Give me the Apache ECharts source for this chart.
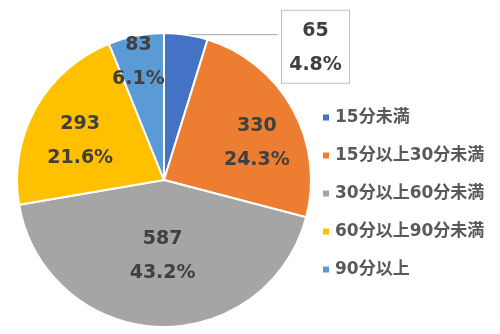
<!DOCTYPE html>
<html>
<head>
<meta charset="utf-8">
<script src="https://cdn.jsdelivr.net/npm/echarts@6/dist/echarts.min.js"></script>
<style>
html, body { margin: 0; padding: 0; background: #fff; }
#chart { width: 500px; height: 334px; }
</style>
</head>
<body>
<div id="chart"></div>
<script>
// 所要時間の区分と人数
var categories = ['15分未満', '15分以上30分未満', '30分以上60分未満', '60分以上90分未満', '90分以上'];
var counts = [65, 330, 587, 293, 83];
var colors = ['#4472C4', '#ED7D31', '#A5A5A5', '#FFC000', '#5B9BD5'];

var fontFamily = '"DejaVu Sans", "Noto Sans CJK JP", sans-serif';

// 内側ラベルの位置調整（Excelの配置に合わせる）
var labelOffsets = [[0, 12], [26, 0], [2, 0], [-17, -2], [-11, -43]];

var pieData = [];
for (var i = 0; i < categories.length; i++) {
	var item = {
		name: categories[i],
		value: counts[i],
		itemStyle: { color: colors[i] },
		label: { offset: labelOffsets[i] }
	};
	if (i === 0) {
		// 小さい区分は吹き出しで外側に表示
		item.label = {
			position: 'outside',
			offset: labelOffsets[i],
			distanceToLabelLine: 4,
			backgroundColor: '#fff',
			borderColor: '#BFBFBF',
			borderWidth: 1,
			padding: [3, 8, 1, 8],
			formatter: function (p) {
				return '{a|' + p.value + '}\n{a|' + p.percent.toFixed(1) + '%}';
			},
			rich: {
				a: {
					width: 51,
					align: 'center',
					color: '#404040',
					fontSize: 19,
					fontWeight: 'bold',
					fontFamily: fontFamily,
					lineHeight: 34
				}
			}
		};
		item.labelLine = {
			show: true,
			length: 0,
			length2: 92,
			lineStyle: { color: '#A6A6A6', width: 1 }
		};
	}
	pieData.push(item);
}

var chart = echarts.init(document.getElementById('chart'));
chart.setOption({
	animation: false,
	legend: {
		orient: 'vertical',
		left: 321,
		top: 109,
		padding: 0,
		icon: 'rect',
		itemWidth: 8,
		itemHeight: 8,
		itemGap: 21,
		data: categories,
		textStyle: {
			color: '#595959',
			fontSize: 17,
			fontWeight: 'bold',
			fontFamily: fontFamily
		}
	},
	series: [{
		type: 'pie',
		center: [164, 180],
		radius: 147,
		startAngle: 90,
		clockwise: true,
		avoidLabelOverlap: false,
		percentPrecision: 1,
		itemStyle: { borderColor: '#fff', borderWidth: 2 },
		label: {
			show: true,
			position: 'inside',
			formatter: '{c}\n{d}%',
			color: '#404040',
			fontSize: 19,
			fontWeight: 'bold',
			fontFamily: fontFamily,
			lineHeight: 34
		},
		labelLine: { show: false },
		data: pieData
	}]
});
</script>
</body>
</html>
